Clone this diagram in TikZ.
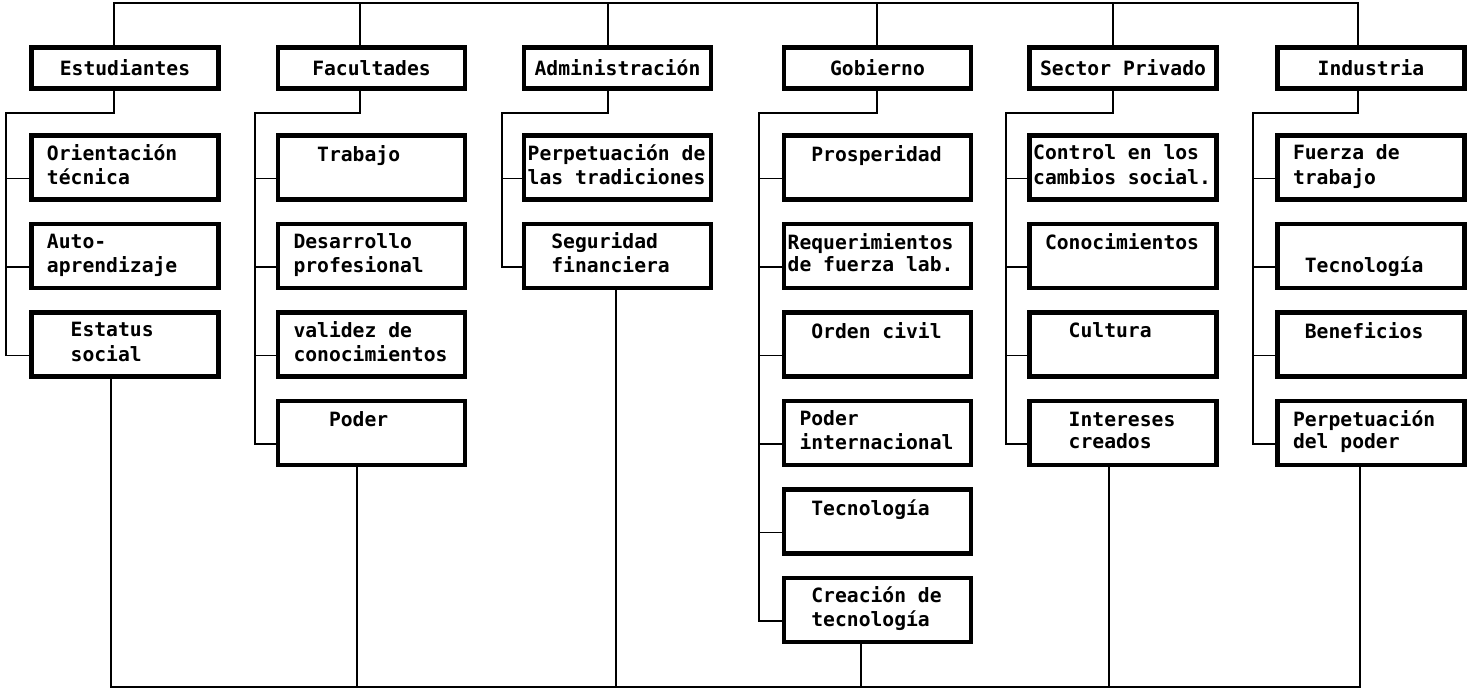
\documentclass[tikz,border=0pt]{standalone}
\usepackage{fontspec}
\newfontfamily\boxfont{DejaVu Sans Mono}
\newcommand\ind[1]{\spaceskip=0.602em\relax\hspace*{\dimexpr3.1mm+0.602em*#1\relax}}
\newcommand\two[3]{\ind{#1}\strut#2\\\ind{#1}\strut#3}
\hfuzz=30pt

\begin{document}
\begin{tikzpicture}
        [x=0.2mm, y=-0.2mm, font=\boxfont\bfseries\fontsize{11.2}{12.5}\selectfont,
         head/.style={draw, line width=2.6pt, minimum width=37.4mm, minimum height=8.3mm, inner sep=0pt},
         item/.style={draw, line width=2.6pt, minimum width=37.4mm, minimum height=12.8mm, text width=37.4mm, inner sep=0pt, align=flush left},
         link/.style={line width=1.1pt}]

        \useasboundingbox (0, 0) rectangle (1473, 690);

        \node[head] (est) at (125, 68) {Estudiantes};
        \node[head] (fac) at (371.5, 68) {Facultades};
        \node[head] (adm) at (617.5, 68) {Administración};
        \node[head] (gob) at (877.5, 68) {Gobierno};
        \node[head] (sec) at (1123, 68) {Sector Privado};
        \node[head] (ind) at (1371, 68) {Industria};

        \node[item] (est1) at (125, 167.5) {\two{0}{Orientación}{técnica}};
        \node[item] (est2) at (125, 256) {\two{0}{Auto-}{aprendizaje}};
        \node[item] (est3) at (125, 344.5) {\two{2}{Estatus}{social}};

        \node[item] (fac1) at (371.5, 167.5) {\two{2}{Trabajo}{}};
        \node[item] (fac2) at (371.5, 256) {\two{0}{Desarrollo}{profesional}};
        \node[item] (fac3) at (371.5, 344.5) {\two{0}{validez de}{conocimientos}};
        \node[item] (fac4) at (371.5, 433) {\two{3}{Poder}{}};

        \node[item] (adm1) at (617.5, 167.5) {\two{-1}{Perpetuación de}{las tradiciones}};
        \node[item] (adm2) at (617.5, 256) {\two{1}{Seguridad}{financiera}};

        \node[item] (gob1) at (877.5, 167.5) {\two{1}{Prosperidad}{}};
        \node[item] (gob2) at (877.5, 256) {\two{-1}{Requerimientos}{de fuerza lab.}};
        \node[item] (gob3) at (877.5, 344.5) {\two{1}{Orden civil}{}};
        \node[item] (gob4) at (877.5, 433) {\two{0}{Poder}{internacional}};
        \node[item] (gob5) at (877.5, 521.5) {\two{1}{Tecnología}{}};
        \node[item] (gob6) at (877.5, 610) {\two{1}{Creación de}{tecnología}};

        \node[item] (sec1) at (1123, 167.5) {\two{-1}{Control en los}{cambios social.}};
        \node[item] (sec2) at (1123, 256) {\two{0}{Conocimientos}{}};
        \node[item] (sec3) at (1123, 344.5) {\two{2}{Cultura}{}};
        \node[item] (sec4) at (1123, 433) {\two{2}{Intereses}{creados}};

        \node[item] (ind1) at (1371, 167.5) {\two{0}{Fuerza de}{trabajo}};
        \node[item] (ind2) at (1371, 256) {\two{1}{}{Tecnología}};
        \node[item] (ind3) at (1371, 344.5) {\two{1}{Beneficios}{}};
        \node[item] (ind4) at (1371, 433) {\two{0}{Perpetuación}{del poder}};

        \coordinate (estTop) at (114, 3);
        \coordinate (facTop) at (360, 3);
        \coordinate (admTop) at (608, 3);
        \coordinate (gobTop) at (877, 3);
        \coordinate (secTop) at (1113, 3);
        \coordinate (indTop) at (1358, 3);

        \coordinate (estSpine) at (6, 113);
        \coordinate (facSpine) at (255, 113);
        \coordinate (admSpine) at (502, 113);
        \coordinate (gobSpine) at (759, 113);
        \coordinate (secSpine) at (1006, 113);
        \coordinate (indSpine) at (1253, 113);

        \coordinate (estBot) at (111, 687);
        \coordinate (facBot) at (357, 687);
        \coordinate (admBot) at (616, 687);
        \coordinate (gobBot) at (861, 687);
        \coordinate (secBot) at (1109, 687);
        \coordinate (indBot) at (1360, 687);

        \draw[link] (estTop |- est.north) |- (indTop) -- (indTop |- ind.north);
        \draw[link] (facTop) -- (facTop |- fac.north);
        \draw[link] (admTop) -- (admTop |- adm.north);
        \draw[link] (gobTop) -- (gobTop |- gob.north);
        \draw[link] (secTop) -- (secTop |- sec.north);

        \draw[link] (estTop |- est.south) |- (estSpine) |- ([yshift=-2.2mm]est3.west);
        \draw[link] ([yshift=-2.2mm]est1.west) -| (estSpine);
        \draw[link] ([yshift=-2.2mm]est2.west) -| (estSpine);

        \draw[link] (facTop |- fac.south) |- (facSpine) |- ([yshift=-2.2mm]fac4.west);
        \draw[link] ([yshift=-2.2mm]fac1.west) -| (facSpine);
        \draw[link] ([yshift=-2.2mm]fac2.west) -| (facSpine);
        \draw[link] ([yshift=-2.2mm]fac3.west) -| (facSpine);

        \draw[link] (admTop |- adm.south) |- (admSpine) |- ([yshift=-2.2mm]adm2.west);
        \draw[link] ([yshift=-2.2mm]adm1.west) -| (admSpine);

        \draw[link] (gobTop |- gob.south) |- (gobSpine) |- ([yshift=-2.2mm]gob6.west);
        \draw[link] ([yshift=-2.2mm]gob1.west) -| (gobSpine);
        \draw[link] ([yshift=-2.2mm]gob2.west) -| (gobSpine);
        \draw[link] ([yshift=-2.2mm]gob3.west) -| (gobSpine);
        \draw[link] ([yshift=-2.2mm]gob4.west) -| (gobSpine);
        \draw[link] ([yshift=-2.2mm]gob5.west) -| (gobSpine);

        \draw[link] (secTop |- sec.south) |- (secSpine) |- ([yshift=-2.2mm]sec4.west);
        \draw[link] ([yshift=-2.2mm]sec1.west) -| (secSpine);
        \draw[link] ([yshift=-2.2mm]sec2.west) -| (secSpine);
        \draw[link] ([yshift=-2.2mm]sec3.west) -| (secSpine);

        \draw[link] (indTop |- ind.south) |- (indSpine) |- ([yshift=-2.2mm]ind4.west);
        \draw[link] ([yshift=-2.2mm]ind1.west) -| (indSpine);
        \draw[link] ([yshift=-2.2mm]ind2.west) -| (indSpine);
        \draw[link] ([yshift=-2.2mm]ind3.west) -| (indSpine);

        \draw[link] (estBot |- est3.south) |- (indBot) -- (indBot |- ind4.south);
        \draw[link] (facBot |- fac4.south) -- (facBot);
        \draw[link] (admBot |- adm2.south) -- (admBot);
        \draw[link] (gobBot |- gob6.south) -- (gobBot);
        \draw[link] (secBot |- sec4.south) -- (secBot);
    \end{tikzpicture}
\end{document}
